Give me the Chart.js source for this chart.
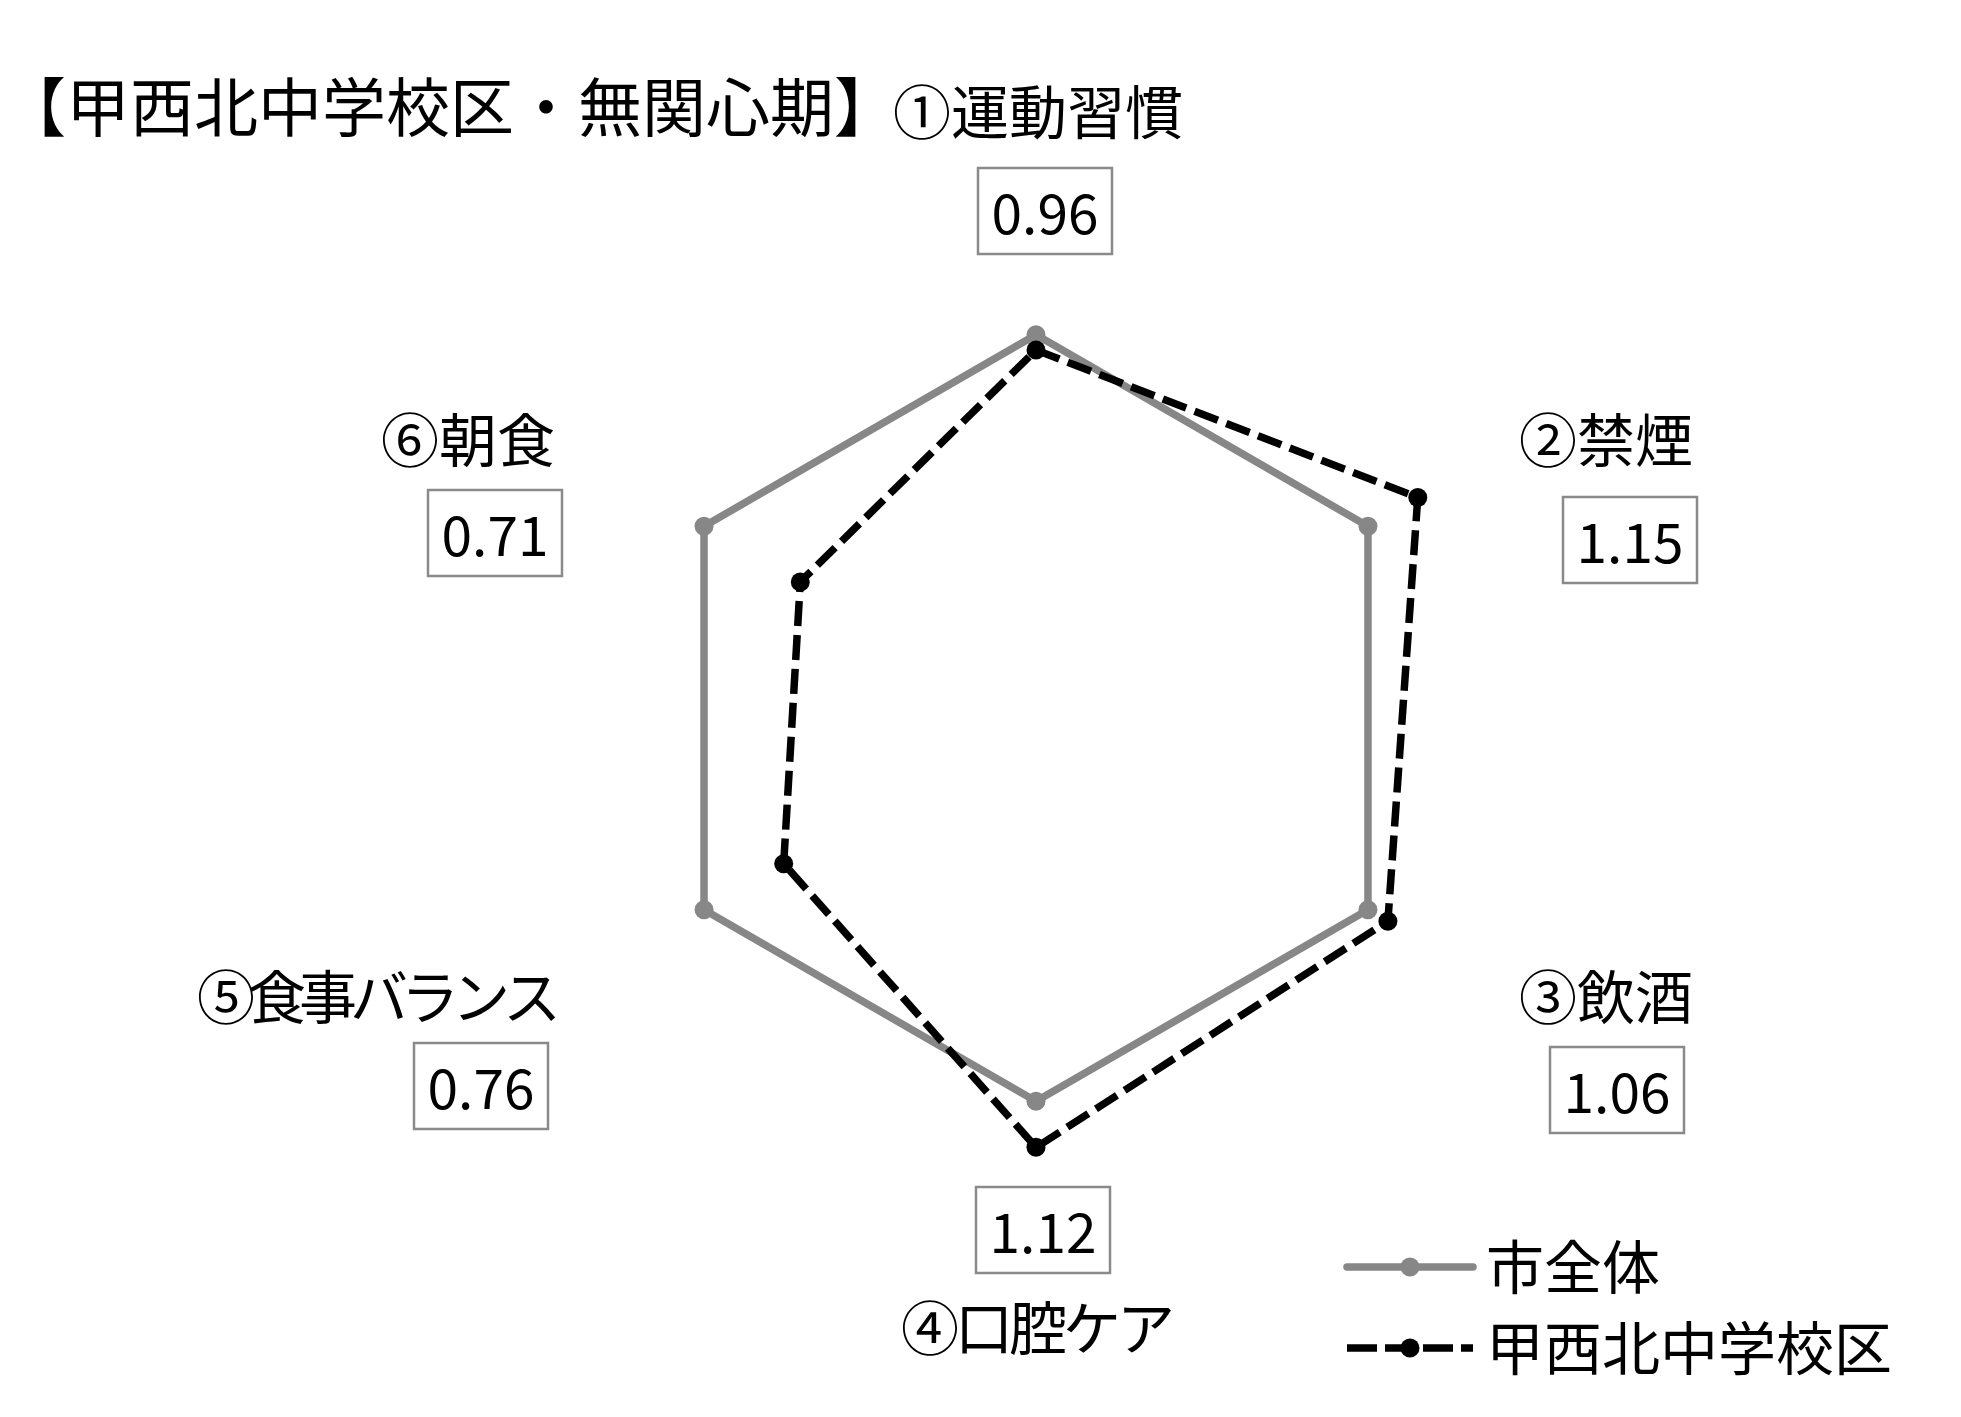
<!DOCTYPE html>
<html><head><meta charset="utf-8">
<script src="https://cdn.jsdelivr.net/npm/chart.js@4.4.1/dist/chart.umd.min.js"></script>
<style>html,body{margin:0;padding:0;background:#fff;overflow:hidden}canvas{display:block}</style>
</head><body>
<canvas id="c" width="1961" height="1417" style="width:1961px;height:1417px"></canvas>
<script>
// ---- data ----
const chartTitle = '【甲西北中学校区・無関心期】';
const categories = ['①運動習慣', '②禁煙', '③飲酒', '④口腔ケア', '⑤食事バランス', '⑥朝食'];
const seriesNames = ['市全体', '甲西北中学校区'];
const cityValues = [1.00, 1.00, 1.00, 1.00, 1.00, 1.00];
const schoolValues = [0.96, 1.15, 1.06, 1.12, 0.76, 0.71];

// ---- styles / layout ----
const FONT = '"Noto Sans CJK JP", "Noto Sans", sans-serif';
const GRAY = '#878787';
const BLACK = '#000000';
// label / box offsets relative to the radial scale centre
const labelLayout = [
  { lx: 2,    ly: -606, align: 'center', ls: 0,  bx: 9,    by: -507 },
  { lx: 483,  ly: -278, align: 'left',   ls: 0,  bx: 594,  by: -178 },
  { lx: 483,  ly: 279,  align: 'left',   ls: 0,  bx: 581,  by: 372 },
  { lx: 0,    ly: 610,  align: 'center', ls: -4, bx: 7,    by: 512 },
  { lx: -482, ly: 279,  align: 'right',  ls: -7, bx: -555, by: 368 },
  { lx: -481, ly: -278, align: 'right',  ls: 0,  bx: -541, by: -185 }
];
const BOX_W = 134, BOX_H = 86;

const overlayPlugin = {
  id: 'overlay',
  afterDraw(chart) {
    const ctx = chart.ctx;
    const s = chart.scales.r;
    const cx = s.xCenter, cy = s.yCenter;
    ctx.save();
    // title
    ctx.fillStyle = '#000';
    ctx.font = '64px ' + FONT;
    ctx.textAlign = 'left';
    ctx.textBaseline = 'middle';
    ctx.fillText(chartTitle, 2, 107);
    // axis labels + value boxes
    categories.forEach((cat, i) => {
      const L = labelLayout[i];
      ctx.font = '58px ' + FONT;
      ctx.textAlign = L.align;
      ctx.textBaseline = 'middle';
      ctx.fillStyle = '#000';
      if ('letterSpacing' in ctx) ctx.letterSpacing = L.ls + 'px';
      ctx.fillText(cat, cx + L.lx, cy + L.ly);
      if ('letterSpacing' in ctx) ctx.letterSpacing = '0px';
      const bx = cx + L.bx, by = cy + L.by;
      ctx.lineWidth = 2.5;
      ctx.strokeStyle = '#8a8a8a';
      ctx.strokeRect(bx - BOX_W / 2, by - BOX_H / 2, BOX_W, BOX_H);
      ctx.font = '55px ' + FONT;
      ctx.textAlign = 'center';
      ctx.fillText(schoolValues[i].toFixed(2), bx, by + 2);
    });
    // legend
    const legendItems = [
      { ds: chart.data.datasets[1], y: 1267 },
      { ds: chart.data.datasets[0], y: 1348 }
    ];
    legendItems.forEach(it => {
      const ds = it.ds;
      ctx.beginPath();
      ctx.strokeStyle = ds.borderColor;
      ctx.lineWidth = ds.borderWidth;
      ctx.setLineDash(ds.borderDash ? [30, 8] : []);
      ctx.lineCap = ds.borderDash ? 'butt' : 'round';
      ctx.moveTo(1347, it.y);
      ctx.lineTo(1473, it.y);
      ctx.stroke();
      ctx.setLineDash([]);
      ctx.beginPath();
      ctx.fillStyle = ds.pointBackgroundColor;
      ctx.arc(1410, it.y, ds.pointRadius, 0, Math.PI * 2);
      ctx.fill();
      ctx.fillStyle = '#000';
      ctx.font = '58px ' + FONT;
      ctx.textAlign = 'left';
      ctx.textBaseline = 'middle';
      ctx.fillText(ds.label, 1486, it.y);
    });
    ctx.restore();
  }
};

new Chart(document.getElementById('c'), {
  type: 'radar',
  data: {
    labels: categories,
    datasets: [
      {
        label: seriesNames[1], data: schoolValues,
        borderColor: BLACK, backgroundColor: BLACK, borderWidth: 7.5, borderDash: [25, 9],
        pointRadius: 9.5, pointBorderWidth: 0, pointBackgroundColor: BLACK,
        fill: false, tension: 0, order: 0
      },
      {
        label: seriesNames[0], data: cityValues,
        borderColor: GRAY, backgroundColor: GRAY, borderWidth: 7.5, borderJoinStyle: 'round',
        pointRadius: 9.5, pointBorderWidth: 0, pointBackgroundColor: GRAY,
        fill: false, tension: 0, order: 1
      }
    ]
  },
  options: {
    responsive: false, animation: false, devicePixelRatio: 1,
    layout: { padding: { left: 576, right: 465, top: 258, bottom: 239 } },
    plugins: { legend: { display: false }, title: { display: false }, tooltip: { enabled: false } },
    scales: {
      r: {
        min: 0, max: 1.2,
        ticks: { display: false },
        grid: { display: false },
        angleLines: { display: false },
        pointLabels: { display: false }
      }
    }
  },
  plugins: [overlayPlugin]
});
</script>
</body></html>
